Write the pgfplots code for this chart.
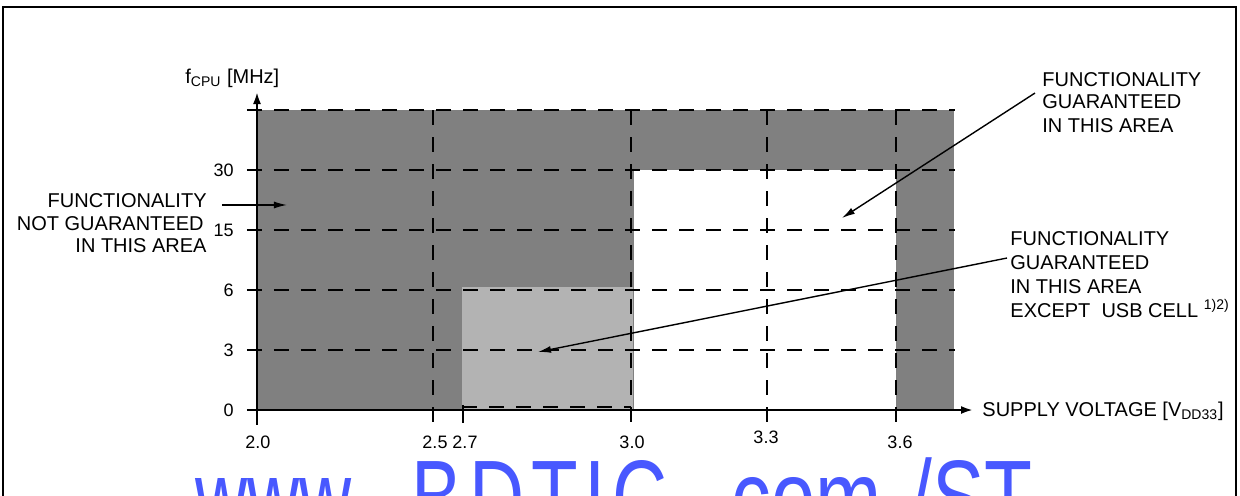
\documentclass[border=0pt]{standalone}
\usepackage{fontspec}
\setmainfont{Liberation Sans}
\usepackage{graphicx}
\usepackage{pgfplots}
\pgfplotsset{compat=1.18}
\usetikzlibrary{arrows.meta}
\definecolor{darkg}{RGB}{128,128,128}
\definecolor{lightg}{RGB}{179,179,179}
\definecolor{wm}{RGB}{72,88,255}
\begin{document}
\begin{tikzpicture}[font=\fontsize{10}{12}\selectfont]
\begin{axis}[
  x=0.5pt, y=30pt,
  xmin=257, xmax=973, ymin=0, ymax=5.3,
  enlargelimits=false,
  axis lines=left,
  axis on top=true,
  clip=false,
  x axis line style={line width=1.1pt,-{Latex[length=6pt,width=4pt]}},
  y axis line style={line width=1.1pt,-{Latex[length=6pt,width=4pt]}},
  major tick length=0pt,
  xtick={258,435,465,632,766,900},
  xticklabels={2.0,2.5,2.7,3.0,\raisebox{2.5pt}{3.3},3.6},
  ytick={0,1,2,3,4},
  yticklabels={0,3,6,15,30},
  xticklabel style={font=\fontsize{9}{10}\selectfont, anchor=base, inner sep=0pt, yshift=-19pt},
  yticklabel style={font=\fontsize{9}{10}\selectfont, anchor=east, inner sep=0pt, xshift=-11.5pt},
  dl/.style={black, line width=1pt, dash pattern=on 7.5pt off 6pt},
]
% regions
\addplot[fill=darkg, draw=none] coordinates {(257,0) (954,0) (954,5) (257,5)};
\addplot[fill=white, draw=none] coordinates {(634,0) (896,0) (896,4) (634,4)};
\addplot[fill=lightg, draw=none] coordinates {(462,0) (633,0) (633,2.05) (462,2.05)};
% horizontal dashed grid
\addplot[dl] coordinates {(247,1) (955,1)};
\addplot[dl] coordinates {(247,2) (955,2)};
\addplot[dl] coordinates {(247,3) (955,3)};
\addplot[dl] coordinates {(247,4) (955,4)};
\addplot[dl] coordinates {(247,5) (955,5)};
% vertical dashed grid
\addplot[dl] coordinates {(433,5) (433,-0.25)};
\addplot[dl] coordinates {(631,5) (631,-0.25)};
\addplot[dl] coordinates {(767,5) (767,-0.25)};
\addplot[dl] coordinates {(896,5) (896,-0.3)};
% light box bottom border
\addplot[black, line width=1.2pt, dash pattern=on 7.5pt off 6pt] coordinates {(462,0.05) (631,0.05)};
% solid ticks
\addplot[black, line width=1pt] coordinates {(247,0) (257,0)};
\addplot[black, line width=1pt] coordinates {(257,0) (257,-0.25)};
\addplot[black, line width=1pt] coordinates {(463,0.08) (463,-0.22)};
% axis labels
\node[anchor=base west, inner sep=0pt] at (axis cs:185,5.45) {f\textsubscript{CPU} [MHz]};
\node[anchor=base west, inner sep=0pt] at (axis cs:982,-0.1) {SUPPLY VOLTAGE [V\textsubscript{DD33}]};
% block 1
\node[anchor=base east, inner sep=0pt] at (axis cs:207,3.383) {FUNCTIONALITY};
\node[anchor=base east, inner sep=0pt] at (axis cs:204,3.0) {NOT GUARANTEED};
\node[anchor=base east, inner sep=0pt] at (axis cs:207,2.617) {IN THIS AREA};
\draw[line width=0.7pt,-{Latex[length=6.5pt,width=3.5pt]}] (axis cs:222,3.417) -- (axis cs:287,3.417);
% block 2
\node[anchor=base west, inner sep=0pt] at (axis cs:1042,5.4) {FUNCTIONALITY};
\node[anchor=base west, inner sep=0pt] at (axis cs:1042,5.017) {GUARANTEED};
\node[anchor=base west, inner sep=0pt] at (axis cs:1042,4.633) {IN THIS AREA};
\draw[line width=0.7pt,-{Latex[length=6.5pt,width=3.5pt]}] (axis cs:1035,5.283) -- (axis cs:842,3.2);
% block 3
\node[anchor=base west, inner sep=0pt] at (axis cs:1010,2.75) {FUNCTIONALITY};
\node[anchor=base west, inner sep=0pt] at (axis cs:1010,2.35) {GUARANTEED};
\node[anchor=base west, inner sep=0pt] at (axis cs:1010,1.95) {IN THIS AREA};
\node[anchor=base west, inner sep=0pt] at (axis cs:1010,1.55) {EXCEPT\ \ USB CELL \textsuperscript{1)2)}};
\draw[line width=0.7pt,-{Latex[length=6.5pt,width=3.5pt]}] (axis cs:1007,2.533) -- (axis cs:538,0.967);
% bounding coordinates
\coordinate (TL) at (axis cs:0,6.8333);
\coordinate (BR) at (axis cs:1240,-1.41667);
\coordinate (F1) at (axis cs:3,6.717);
\coordinate (F2) at (axis cs:1236,-2.5);
\coordinate (W1) at (axis cs:195,-2.067);
\coordinate (W2) at (axis cs:411,-2.067);
\coordinate (W3) at (axis cs:731,-2.067);
\coordinate (W4) at (axis cs:910,-2.067);
\end{axis}
\pgfresetboundingbox
\path[use as bounding box] (TL) rectangle (BR);
\begin{scope}
\clip (TL) rectangle (BR);
\draw[line width=1.3pt] (F1) rectangle (F2);
\begin{scope}[every node/.style={anchor=base west, inner sep=0pt, text=wm, font=\fontsize{53}{56}\selectfont}]
\node at (W1) {\scalebox{0.68}[1]{www.}};
\node at (W2) {\scalebox{0.72}[1]{\addfontfeature{LetterSpace=9}BDTIC.}};
\node at (W3) {\scalebox{0.75}[1]{com}};
\node at (W4) {\scalebox{0.74}[1]{/ST}};
\end{scope}
\end{scope}
\end{tikzpicture}
\end{document}
